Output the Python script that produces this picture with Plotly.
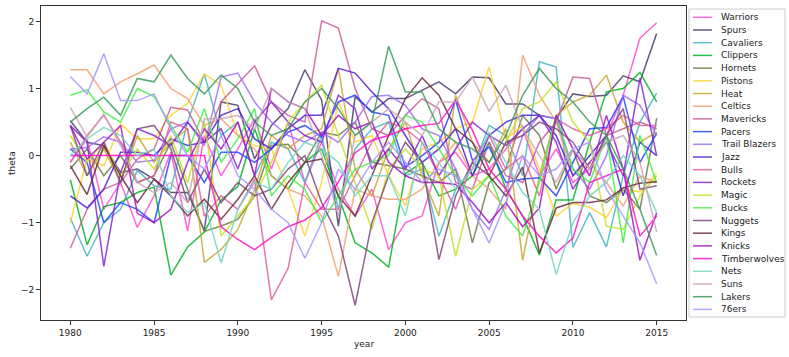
import plotly.graph_objects as go

years = list(range(1980, 2016))

teams = ["Warriors", "Spurs", "Cavaliers", "Clippers", "Hornets", "Pistons", "Heat", "Celtics",
         "Mavericks", "Pacers", "Trail Blazers", "Jazz", "Bulls", "Rockets", "Magic", "Bucks",
         "Nuggets", "Kings", "Knicks", "Timberwolves", "Nets", "Suns", "Lakers", "76ers"]

colors = ["#ff4fd2", "#4a3d6b", "#48b6c6", "#00b424", "#6b7b4b", "#ffd335", "#c9a835", "#f6a070",
          "#c95f9b", "#2244ff", "#a06ffa", "#5020d8", "#e0609f", "#8428d0", "#c8e025", "#44f044",
          "#7f4a80", "#6b2b3b", "#a412c2", "#ff10cc", "#72d8c0", "#c8a8b8", "#3b9b5b", "#a898ff"]

warriors = [-0.1, 0.25, -0.8, -0.4, -1.07, -0.6, 0.05, -1.12, 0.3, -0.3, 0.1, 0.55, -0.2, 0.5, -0.4, 0.2, -0.5, -0.9,
            -0.5, -1.4, -1.0, -0.9, -0.1, 0.05, -0.3, -0.2, 0.1, 0.4, -0.3, 0.1, -0.4, -0.2, 0.3, 0.9, 1.75, 1.98]
spurs = [0.52, 0.2, 0.15, -0.25, -0.2, -0.35, -0.55, -0.55, -1.12, 0.8, 0.75, -0.05, 0.45, 0.7, 1.28, 0.83, -1.05, 0.88,
         0.65, 0.85, 0.85, 0.98, 1.1, 0.92, 1.17, 1.16, 0.77, 0.77, 0.6, 0.55, 0.92, 0.88, 0.9, 1.19, 1.1, 1.82]
cavaliers = [-0.93, -1.5, -1.0, -0.8, -0.22, -0.45, -0.5, 0.5, 1.22, 0.3, 0.5, -0.3, 0.2, 0.1, -0.4, 0.3, -0.8, 0.1,
             0.4, 0.5, -0.3, -0.2, -1.2, -0.5, -0.2, 0.45, 0.3, -0.3, 1.4, 1.32, -1.37, -0.85, -1.36, -0.3, 0.5, 0.93]
clippers = [-0.36, -1.33, -0.76, -0.7, -0.55, -0.47, -1.78, -1.36, -1.14, -0.66, -0.46, 0.4, -0.3, -0.5, -0.1, 0.1, -0.6, -1.3,
            -1.45, -1.66, -0.27, -0.1, -0.6, -0.5, -0.3, 0.2, -0.5, -0.9, -1.48, -0.66, -0.66, 0.2, 0.95, 1.0, 1.24, 0.8]
hornets = [-0.2, 0.1, -0.3, 0.0, -0.4, -0.3, 0.2, -0.5, -1.13, -1.05, -0.95, -0.6, 0.15, 0.17, -0.1, 0.35, 0.3, 0.5,
           -0.1, -0.15, -0.2, -0.3, -0.4, -0.2, -1.3, -0.4, -0.2, 0.6, 0.3, -0.5, 0.1, -0.6, -0.7, -0.5, -0.8, 0.56]
pistons = [-1.0, -0.05, -0.15, 0.47, 0.25, 0.25, 0.6, 0.78, 1.22, 1.05, 0.3, 0.15, 0.1, -0.5, -1.2, -0.4, 0.8, 0.2,
           0.3, -0.3, -0.75, 0.1, 0.2, 0.4, 0.5, 1.32, 0.25, 0.45, -0.2, -0.9, -0.71, -0.77, -0.92, -0.5, -0.54, -0.26]
heat = [0.2, -0.3, 0.1, -0.4, 0.3, -0.1, 0.2, 0.4, -1.59, -1.4, -1.1, -0.5, 0.3, 0.1, 0.3, 0.4, 1.3, -0.2,
        -0.6, 0.1, 0.5, -0.3, -0.9, 0.9, 0.2, -0.1, 0.4, -1.56, -0.3, 0.6, 0.8, 0.9, 1.2, 0.5, 0.2, 0.35]
celtics = [1.28, 1.28, 0.92, 1.1, 1.22, 1.35, 1.0, 0.85, 0.45, 0.55, 0.3, 0.1, -0.3, -0.5, -0.6, -0.9, -1.8, -0.5,
           -0.6, -0.65, -0.65, -0.5, -0.1, 0.2, -0.3, -0.5, -0.8, 1.5, 0.9, 0.5, -0.3, -0.1, -0.4, -0.75, -0.3, -0.4]
mavericks = [-1.38, -0.8, -0.5, -0.4, -0.05, 0.1, 0.72, 0.68, 0.2, 0.8, 1.07, 1.34, 0.8, 0.6, 0.5, 2.01, 1.9, 1.0,
             0.4, 0.3, 0.6, 0.85, 0.7, -0.4, -0.5, 0.2, -0.3, -0.4, 0.2, 0.5, 1.17, 1.15, 0.3, 0.4, 0.5, 0.4]
pacers = [0.1, -0.1, -1.0, -0.7, -0.8, -1.0, 0.0, 0.0, -0.4, 0.05, 0.05, -0.1, 0.1, 0.35, 0.45, 0.28, 0.8, 0.9,
          0.65, 0.6, -0.17, 0.0, 0.2, 0.83, -0.07, 0.13, -0.4, -0.35, -0.33, -0.6, -0.1, 0.4, 0.42, 0.88, -0.1, 0.33]
trail_blazers = [0.1, 0.12, 0.28, 0.2, -0.1, -0.07, 0.4, 0.5, 0.15, 1.17, 1.23, 0.8, 0.5, 0.3, 0.2, 0.35, 0.2, 0.5,
                 0.88, 0.9, 0.75, 0.4, 0.3, -0.2, -0.8, -1.1, -0.5, 0.3, 0.6, 0.55, -0.2, -0.5, 0.0, 0.9, 0.75, 0.3]
jazz = [-0.6, -0.78, -0.5, 0.05, 0.05, 0.0, 0.25, 0.15, 0.2, 0.6, 0.7, 0.25, 0.1, 0.4, 0.6, 0.6, 1.3, 1.23,
        0.95, 0.7, 0.3, -0.1, 0.1, 0.4, -0.3, 0.3, 0.5, 0.6, 0.6, 0.3, -0.3, 0.0, 0.3, -0.6, 0.2, 0.0]
bulls = [-0.1, 0.3, 0.6, 0.2, -0.4, -0.3, 0.5, 0.4, -0.9, -0.6, -0.8, -0.35, -2.15, -1.68, -0.4, -0.8, -0.8, -0.3,
         0.2, 0.5, 0.4, 0.2, -0.3, -0.8, -0.1, 0.3, -0.2, 0.0, -0.6, 0.55, 0.4, 0.3, 0.4, 0.6, 0.45, 0.45]
rockets = [0.45, 0.2, -1.65, -0.25, 0.4, 0.3, 0.15, 0.5, 0.2, 0.4, -0.2, 0.5, 0.8, 0.5, 0.3, 0.2, 0.9, 0.7,
           -0.2, 0.1, -0.2, 0.3, -0.3, 0.1, 0.5, 0.3, 0.15, 0.4, 0.6, 0.2, -0.5, -0.1, 0.2, -0.3, 1.15, 0.0]
magic = [0.3, -0.1, 0.2, -0.3, 0.1, -0.2, 0.3, -0.4, 0.5, -1.2, -0.9, -0.6, -0.1, 0.5, 0.8, 1.05, 0.3, -0.4,
         -1.1, -0.2, 0.1, -0.2, -0.3, -1.5, -0.5, -0.3, 0.2, 0.7, 0.8, 1.1, 0.5, 0.2, -1.05, -1.1, -0.6, -0.3]
bucks = [0.9, 0.98, 0.65, 0.5, 1.0, 0.88, 0.45, 0.05, 0.7, -0.1, 0.25, 0.7, -0.6, -0.3, -0.5, -1.0, -0.6, -0.2,
         -0.1, 0.0, 0.6, 0.5, 0.1, -0.3, -0.6, -0.3, -0.9, -1.2, -0.4, 0.6, -0.2, -0.4, 0.3, -1.3, 0.3, -0.4]
nuggets = [0.45, -0.3, 0.2, -0.4, 0.4, 0.45, 0.1, -0.7, -0.2, -0.7, -0.4, -0.6, -0.5, -0.2, 0.0, -0.7, -1.2, -2.23,
           -1.0, -0.3, 0.2, -0.1, -1.55, -0.6, -0.1, -0.3, 0.2, 0.3, 0.5, 0.4, 0.2, -0.2, 0.3, 0.7, -0.5, -0.45]
kings = [-0.15, -0.58, 0.15, -0.3, -0.7, -0.35, -0.6, -0.9, -0.65, -0.95, -0.65, -0.3, -0.8, -0.4, -0.1, -0.05, -0.6, -0.9,
         -0.3, 0.3, 0.85, 1.16, 0.9, 0.4, 0.2, -0.3, -0.6, -0.17, -1.45, -0.78, -0.7, -0.7, -0.66, -0.48, -0.41, -0.39]
knicks = [0.45, -0.05, 0.2, 0.45, -0.86, -1.0, -0.8, -0.1, 0.4, 0.1, 0.5, -0.3, 1.0, 0.8, 0.7, 0.3, 0.6, 0.4,
          0.5, -0.1, -0.3, -0.4, -0.4, -0.43, -0.7, -1.0, -0.7, -1.06, -0.78, 0.6, 0.1, -0.3, 0.6, -0.2, -1.56, -0.85]
timberwolves = [0.0, 0.0, 0.0, 0.0, 0.0, 0.0, 0.0, 0.0, 0.0, -1.06, -1.25, -1.4, -1.22, -1.06, -0.96, -0.78, -0.39, 0.04,
                0.23, 0.3, 0.4, 0.45, 0.48, 0.83, 0.38, -0.2, -0.5, -0.9, -1.2, -1.45, -1.23, -0.4, -0.3, -0.2, -1.2, -0.9]
nets = [0.0, 0.25, 0.42, 0.3, 0.0, 0.1, -0.6, -0.85, -0.7, -1.6, -0.8, -0.4, -0.5, -0.1, 0.2, 0.1, -0.1, -0.6,
        -0.3, -0.3, -0.9, 0.2, -0.1, -0.5, -0.2, 0.35, -0.1, -0.55, -0.8, -1.77, -1.0, -0.6, -0.4, 0.0, -0.3, -0.85]
suns = [0.72, 0.28, 0.62, 0.15, -0.4, -0.55, -0.4, -0.7, 0.55, 0.55, 0.6, 0.4, 1.0, 0.8, 0.7, 0.0, -0.9, 0.3,
        0.5, 0.7, 0.5, 0.3, 0.8, 0.8, 1.17, 0.66, 1.05, 0.4, 0.0, -0.4, 0.1, -0.2, 0.2, 0.3, -0.1, -1.14]
lakers = [0.5, 0.7, 0.87, 0.6, 1.15, 1.1, 1.5, 1.15, 0.92, 1.2, 1.0, 0.5, 0.3, 0.4, 0.8, 1.0, 0.7, 0.3,
          0.5, 1.63, 0.95, 0.95, 0.4, 0.2, 0.1, -0.1, 0.3, 0.9, 1.3, 1.0, 0.8, 0.5, 0.3, -0.2, -0.8, -1.49]
sixers = [1.18, 0.92, 1.52, 0.82, 0.82, 0.92, 0.4, 0.0, -0.2, 0.3, -0.3, -0.5, -0.8, -1.0, -1.53, -1.0, -0.2, -0.5,
          -0.1, 0.2, -0.1, -0.4, -0.2, -0.3, -0.8, -1.3, -0.7, 0.0, -0.3, -0.2, 0.1, 0.2, -0.5, -0.9, -1.3, -1.91]

series = [warriors, spurs, cavaliers, clippers, hornets, pistons, heat, celtics, mavericks, pacers,
          trail_blazers, jazz, bulls, rockets, magic, bucks, nuggets, kings, knicks, timberwolves,
          nets, suns, lakers, sixers]

fig = go.Figure()
for name, vals, col in zip(teams, series, colors):
    fig.add_trace(go.Scatter(x=years, y=vals, name=name, mode="lines",
                             line=dict(color=col, width=1.5), opacity=0.85, showlegend=False))

# matplotlib-style legend box drawn by hand (plotly's own legend is too tall for 24 rows)
W, H = 789, 357
L, R, T, B = 41, 686, 6, 320
pw, ph = R - L, B - T
px = lambda x: (x - L) / pw
py = lambda y: (B - y) / ph

shapes = [dict(type="rect", xref="paper", yref="paper", x0=px(689), x1=px(785), y0=py(317), y1=py(9),
               line=dict(color="#cccccc", width=1), fillcolor="rgba(255,255,255,0.8)", layer="above")]
annots = []
for i, (name, col) in enumerate(zip(teams, colors)):
    yy = 17.3 + i * 12.7
    shapes.append(dict(type="line", xref="paper", yref="paper", x0=px(693), x1=px(712), y0=py(yy), y1=py(yy),
                       line=dict(color=col, width=1.5), opacity=0.85, layer="above"))
    annots.append(dict(text=name, xref="paper", yref="paper", x=px(718.5), y=py(yy), xanchor="left",
                       yanchor="middle", showarrow=False, font=dict(size=9, color="#222")))

annots.append(dict(text="year", xref="paper", yref="paper", x=0.5, y=py(344), xanchor="center",
                   yanchor="middle", showarrow=False, font=dict(size=9, color="#222")))
annots.append(dict(text="theta", xref="paper", yref="paper", x=px(12), y=0.5, xanchor="center",
                   yanchor="middle", textangle=-90, showarrow=False, font=dict(size=9, color="#222")))

fig.update_layout(
    width=W, height=H, margin=dict(l=L, r=W - R, t=T, b=H - B),
    plot_bgcolor="white", paper_bgcolor="white",
    font=dict(family="DejaVu Sans", size=9, color="#222"),
    shapes=shapes, annotations=annots,
    xaxis=dict(range=[1978.25, 2016.75], tickvals=list(range(1980, 2016, 5)), ticks="outside", ticklen=4,
               tickcolor="#333", showline=True, linecolor="#333", linewidth=1, mirror=True,
               showgrid=False, zeroline=False),
    yaxis=dict(range=[-2.45, 2.23], tickvals=[-2, -1, 0, 1, 2], ticks="outside", ticklen=4,
               tickcolor="#333", showline=True, linecolor="#333", linewidth=1, mirror=True,
               showgrid=False, zeroline=False),
)

# drop the browser's default 8px body margin so the figure sits at the page corner
fig.write_html("out.html", config={"displayModeBar": False},
               post_script="document.body.style.margin='0';")
